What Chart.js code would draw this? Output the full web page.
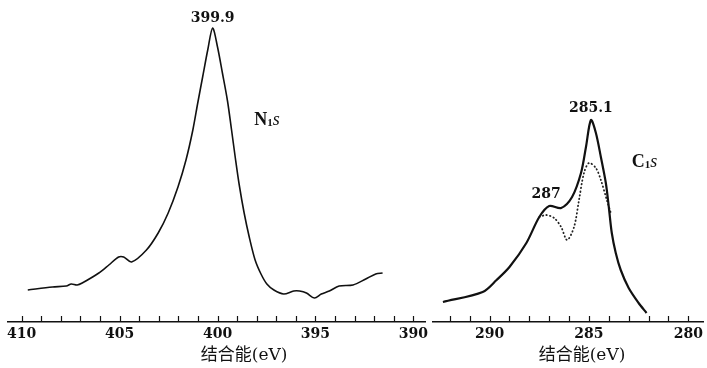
<!DOCTYPE html>
<html><head><meta charset="utf-8">
<script src="https://cdn.jsdelivr.net/npm/chart.js@4"></script>
<style>
html,body{margin:0;padding:0;background:#fff;}
#wrap{position:relative;width:707px;height:368px;background:#fff;}
#c1box{position:absolute;left:0;top:0;width:432px;height:368px;}
#c2box{position:absolute;left:432px;top:0;width:275px;height:368px;}
</style></head><body>
<div id="wrap"><div id="c1box"><canvas id="c1"></canvas></div><div id="c2box"><canvas id="c2"></canvas></div></div>
<script>
// ---- data (binding energy in eV, intensity in arbitrary units) ----
const n1sEnergy    = [409.69,408.43,407.72,407.47,407.17,406.91,406.06,405.55,405.05,404.79,404.39,403.63,403.03,402.52,402.02,401.61,401.26,401.01,400.76,400.50,400.25,400.0,399.75,399.49,399.29,399.09,398.89,398.64,398.38,398.08,397.78,397.48,397.12,396.62,396.11,395.81,395.46,395.05,394.70,394.29,393.79,393.08,392.43,391.92,391.57];
const n1sIntensity = [32,35,36,38,37,39,49,57,65,65,60,72,89,109,135,162,192,219,245,272,294,275,249,221,193,164,137,109,85,62,48,38,32,28,31,31,29,24,28,31,36,37,43,48,49];

const c1sEnergy    = [292.35,290.35,289.65,289.0,288.15,287.5,287.0,286.4,285.85,285.4,285.15,284.9,284.65,284.4,284.15,284.0,283.85,283.65,283.4,283.0,282.5,282.1];
const c1sIntensity = [20,30,42,55,79,105,116,114,125,149,175,202,189,165,139,115,89,69,52,34,19,9];

const c1sDotEnergy    = [287.5,287.15,286.75,286.4,286.1,285.75,285.5,285.25,285.0,284.65,284.4,284.1,283.9];
const c1sDotIntensity = [105,107,104,95,82,95,122,149,159,154,142,122,109];

const leftTickLabels  = [410,405,400,395,390];
const rightTickLabels = [290,285,280];
const axisTitle = '结合能(eV)';

// ---- helpers ----
const pts = (xs, ys) => xs.map((x, i) => ({x: x, y: ys[i]}));
const SERIF = '"DejaVu Serif", "Noto Sans CJK SC", serif';
const TIMES = '"Liberation Serif", "DejaVu Serif", serif';

const upTicks = {
  id: 'upTicks',
  afterDraw(chart) {
    const s = chart.scales.x, ctx = chart.ctx, y0 = chart.chartArea.bottom;
    ctx.save(); ctx.strokeStyle = '#111'; ctx.lineWidth = 1.2;
    s.ticks.forEach(t => {
      const x = Math.round(s.getPixelForValue(t.value)) + 0.5;
      ctx.beginPath(); ctx.moveTo(x, y0); ctx.lineTo(x, y0 - 6); ctx.stroke();
    });
    ctx.restore();
  }
};

const richText = {
  id: 'richText',
  afterDraw(chart, args, opts) {
    const ctx = chart.ctx, sx = chart.scales.x, sy = chart.scales.y;
    (opts.items || []).forEach(it => {
      const px = sx.getPixelForValue(it.x);
      const py = it.below ? chart.chartArea.bottom + it.below : sy.getPixelForValue(it.y) - (it.dy || 0);
      ctx.save(); ctx.fillStyle = '#111'; ctx.textBaseline = it.baseline || 'alphabetic';
      let w = 0;
      it.parts.forEach(p => { ctx.font = p.font; w += ctx.measureText(p.t).width; });
      let x = it.align === 'center' ? px - w / 2 : px;
      it.parts.forEach(p => {
        ctx.font = p.font; ctx.textAlign = 'left';
        ctx.fillText(p.t, x, py + (p.sub || 0));
        x += ctx.measureText(p.t).width;
      });
      ctx.restore();
    });
  }
};

function makeChart(id, datasets, min, max, labels, padding, items) {
  return new Chart(document.getElementById(id), {
    type: 'line',
    data: {datasets: datasets},
    plugins: [upTicks, richText],
    options: {
      responsive: true, maintainAspectRatio: false, animation: false,
      layout: {padding: padding},
      plugins: {legend: {display: false}, tooltip: {enabled: false}, richText: {items: items}},
      elements: {point: {radius: 0}, line: {tension: 0.3}},
      scales: {
        x: {
          type: 'linear', reverse: true, min: min, max: max,
          afterFit: s => { s.height = 46; },
          grid: {drawOnChartArea: false, drawTicks: false},
          border: {display: true, color: '#111', width: 1.5},
          ticks: {
            stepSize: 1, includeBounds: false, autoSkip: false, maxRotation: 0, padding: 4,
            color: '#111', font: {family: SERIF, size: 14, weight: 'bold'},
            callback: v => labels.includes(Math.round(v)) && Math.abs(v - Math.round(v)) < 1e-6 ? String(Math.round(v)) : ''
          }
        },
        y: {display: false, min: 0, max: 322}
      }
    }
  });
}

makeChart('c1', [
  {data: pts(n1sEnergy, n1sIntensity), borderColor: '#111', borderWidth: 1.6, fill: false}
], 389.4, 410.7, leftTickLabels, {left: 8, right: 2, top: 0, bottom: 0}, [
  {x: 400.25, y: 294, dy: 6, align: 'center', parts: [{t: '399.9', font: 'bold 14px ' + SERIF}]},
  {x: 398.13, y: 197, parts: [{t: 'N', font: 'bold 18px ' + TIMES}, {t: '1', font: 'bold 11px ' + TIMES, sub: 1}, {t: 's', font: 'italic 18px ' + TIMES}]},
  {x: 398.64, below: 34, align: 'center', baseline: 'middle', parts: [{t: axisTitle, font: '17px ' + SERIF}]}
]);

makeChart('c2', [
  {data: pts(c1sEnergy, c1sIntensity), borderColor: '#111', borderWidth: 2.2, fill: false},
  {data: pts(c1sDotEnergy, c1sDotIntensity), borderColor: '#222', borderWidth: 1.8, borderDash: [0.5, 3.2], borderCapStyle: 'round', fill: false}
], 279.25, 292.9, rightTickLabels, {left: 0, right: 2, top: 0, bottom: 0}, [
  {x: 284.9, y: 202, dy: 8, align: 'center', parts: [{t: '285.1', font: 'bold 14px ' + SERIF}]},
  {x: 287.15, y: 124, align: 'center', parts: [{t: '287', font: 'bold 14px ' + SERIF}]},
  {x: 282.85, y: 155, parts: [{t: 'C', font: 'bold 18px ' + TIMES}, {t: '1', font: 'bold 11px ' + TIMES, sub: 1}, {t: 's', font: 'italic 18px ' + TIMES}]},
  {x: 285.35, below: 34, align: 'center', baseline: 'middle', parts: [{t: axisTitle, font: '17px ' + SERIF}]}
]);
</script>
</body></html>
